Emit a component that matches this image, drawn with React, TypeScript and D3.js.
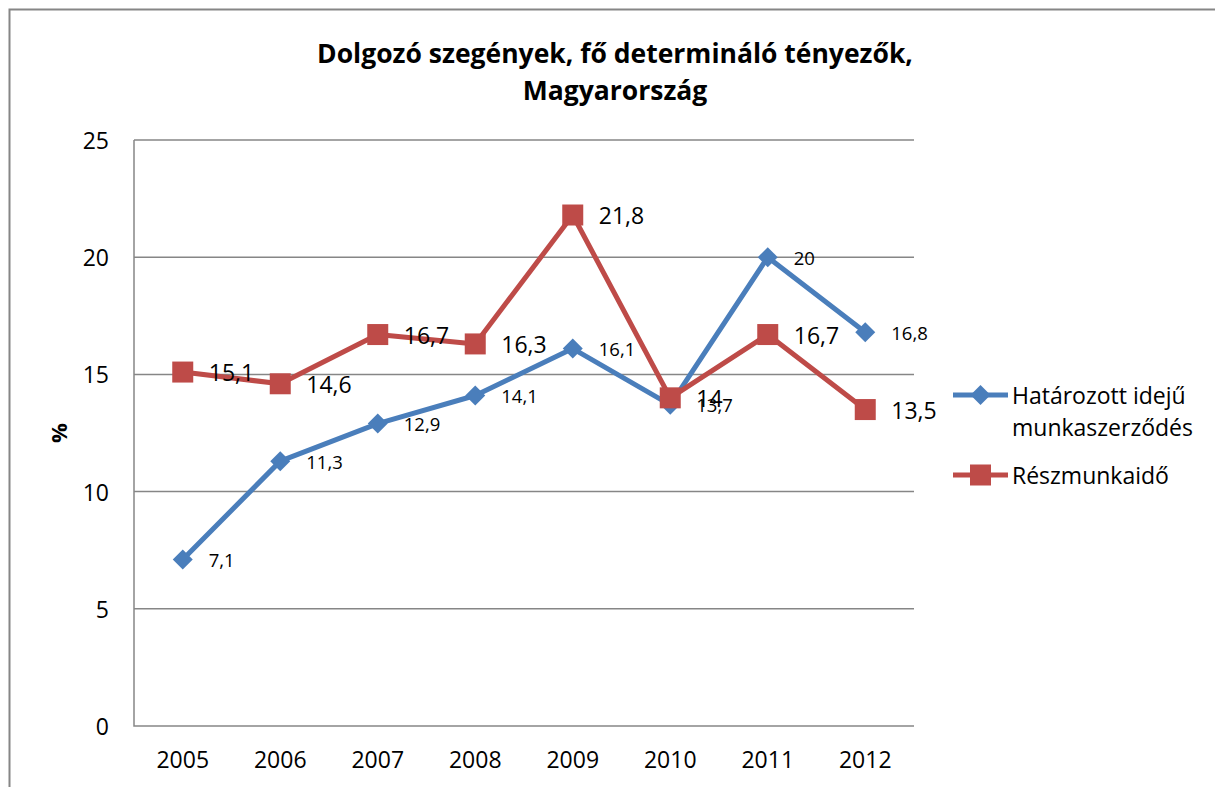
import React from "react";
import * as d3 from "d3";

const years = ["2005", "2006", "2007", "2008", "2009", "2010", "2011", "2012"];
const fixedTerm = [7.1, 11.3, 12.9, 14.1, 16.1, 13.7, 20, 16.8];
const partTime = [15.1, 14.6, 16.7, 16.3, 21.8, 14, 16.7, 13.5];
const yTicks = [0, 5, 10, 15, 20, 25];
const titleLines = ["Dolgozó szegények, fő determináló tényezők,", "Magyarország"];
const legendFixed = ["Határozott idejű", "munkaszerződés"];
const legendPart = "Részmunkaidő";

const BLUE = "#4A7EBB";
const RED = "#BE4B48";
const GRID = "#868686";
const FONT = "'Open Sans', 'Noto Sans', sans-serif";

const fmt = (v: number) => String(v).replace(".", ",");

export default function App() {
  const W = 1215, H = 787;
  const left = 134, right = 914, top = 140, bottom = 726;
  const x = d3.scaleBand<string>().domain(years).range([left, right]).padding(0);
  const cx = (d: string) => (x(d) as number) + x.bandwidth() / 2;
  const y = d3.scaleLinear().domain([0, 25]).range([bottom, top]);
  const line = d3.line<number>().x((_, i) => cx(years[i])).y((v) => y(v));

  const diamond = (px: number, py: number, r: number) =>
    `M${px},${py - r}L${px + r},${py}L${px},${py + r}L${px - r},${py}Z`;

  return (
    <svg width={W} height={H} style={{ position: "absolute", left: 0, top: 0 }} fontFamily={FONT}>
      <rect x={0} y={0} width={W} height={H} fill="#fff" />
      <path d={`M9.5,${H + 5}V9.5H${W + 5}`} fill="none" stroke={GRID} strokeWidth={2} />
      {titleLines.map((t, i) => (
        <text key={t} x={615} y={63 + i * 37} textAnchor="middle" fontSize={26.5} fontWeight="bold" fill="#000">
          {t}
        </text>
      ))}
      {yTicks.map((t) => (
        <g key={t}>
          {t > 0 && (
            <line x1={left} x2={right} y1={y(t)} y2={y(t)} stroke={GRID} strokeWidth={1.5} />
          )}
          <text x={109} y={y(t)} textAnchor="end" dominantBaseline="central" fontSize={23} fill="#000">
            {t}
          </text>
        </g>
      ))}
      <path d={`M${left},${top}V${bottom}H${right}`} fill="none" stroke={GRID} strokeWidth={1.5} />
      {years.map((yr) => (
        <text key={yr} x={cx(yr)} y={768} textAnchor="middle" fontSize={23} fill="#000">
          {yr}
        </text>
      ))}
      <text
        transform="translate(67,433) rotate(-90)"
        textAnchor="middle"
        fontSize={22}
        fontWeight="bold"
        fill="#000"
      >
        %
      </text>

      <path d={line(fixedTerm) || ""} fill="none" stroke={BLUE} strokeWidth={5} strokeLinejoin="round" />
      {fixedTerm.map((v, i) => (
        <path key={"bd" + i} d={diamond(cx(years[i]), y(v), 10)} fill={BLUE} />
      ))}
      <path d={line(partTime) || ""} fill="none" stroke={RED} strokeWidth={5} strokeLinejoin="round" />
      {partTime.map((v, i) => (
        <rect key={"rs" + i} x={cx(years[i]) - 10.5} y={y(v) - 10.5} width={21} height={21} fill={RED} />
      ))}

      {fixedTerm.map((v, i) => (
        <text key={"bl" + i} x={cx(years[i]) + 26} y={y(v)} dominantBaseline="central" fontSize={18.5} fill="#000">
          {fmt(v)}
        </text>
      ))}
      {partTime.map((v, i) => (
        <text key={"rl" + i} x={cx(years[i]) + 26} y={y(v)} dominantBaseline="central" fontSize={23} fill="#000">
          {fmt(v)}
        </text>
      ))}

      <line x1={953} x2={1008} y1={395} y2={395} stroke={BLUE} strokeWidth={5} />
      <path d={diamond(980.5, 395, 10)} fill={BLUE} />
      {legendFixed.map((t, i) => (
        <text key={t} x={1012} y={404 + i * 32} fontSize={23} fill="#000">
          {t}
        </text>
      ))}
      <line x1={953} x2={1008} y1={475} y2={475} stroke={RED} strokeWidth={5} />
      <rect x={970} y={464.5} width={21} height={21} fill={RED} />
      <text x={1012} y={484} fontSize={23} fill="#000">
        {legendPart}
      </text>
    </svg>
  );
}
